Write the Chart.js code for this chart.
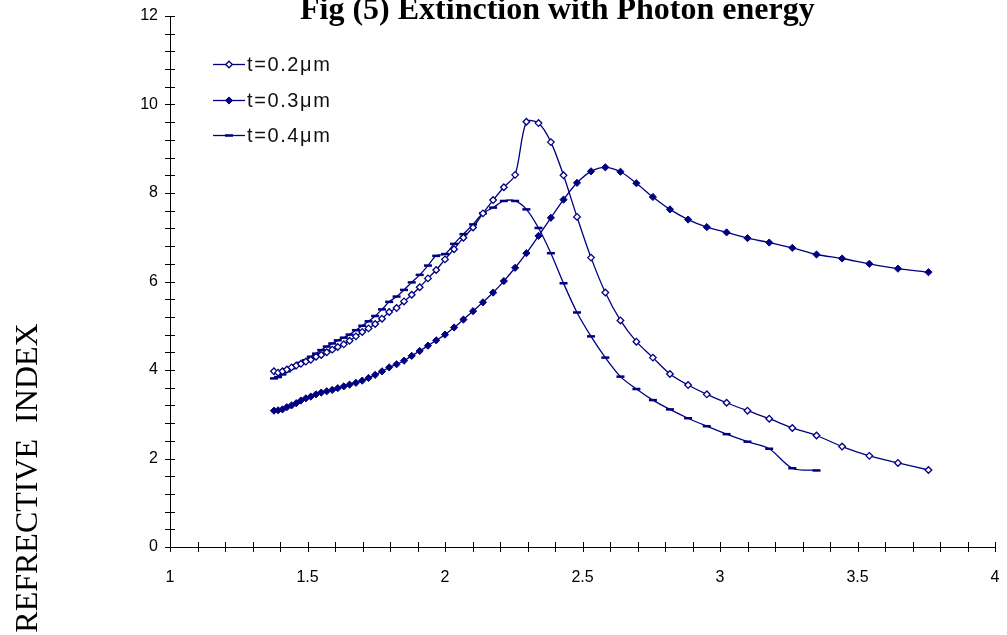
<!DOCTYPE html>
<html><head><meta charset="utf-8">
<script src="https://cdn.jsdelivr.net/npm/chart.js@4.4.0/dist/chart.umd.min.js"></script>
<style>html,body{margin:0;padding:0;background:#fff;overflow:hidden}</style>
</head><body>
<canvas id="c" width="1007" height="635"></canvas>
<script>
// Photon energy (eV) of each measured point
const photonEnergy = [1.378,1.393,1.409,1.425,1.442,1.459,1.476,1.494,1.512,1.531,
  1.550,1.570,1.590,1.610,1.632,1.653,1.676,1.699,1.722,1.746,
  1.771,1.797,1.824,1.851,1.879,1.908,1.938,1.968,2.000,2.033,
  2.067,2.102,2.138,2.175,2.214,2.255,2.296,2.340,2.385,2.431,
  2.480,2.531,2.583,2.638,2.696,2.756,2.818,2.884,2.952,3.024,
  3.100,3.179,3.263,3.351,3.444,3.543,3.647,3.758];
// t = 0.2 um
const ext02 = [3.97,3.94,3.97,4.01,4.06,4.10,4.14,4.19,4.23,4.30,
  4.34,4.40,4.46,4.52,4.58,4.66,4.76,4.86,4.94,5.04,
  5.16,5.31,5.40,5.55,5.70,5.87,6.07,6.26,6.50,6.73,
  6.99,7.22,7.54,7.84,8.13,8.41,9.61,9.58,9.15,8.40,
  7.46,6.54,5.75,5.12,4.64,4.28,3.91,3.66,3.45,3.26,
  3.08,2.90,2.69,2.52,2.27,2.06,1.90,1.74];
// t = 0.3 um
const ext03 = [3.08,3.09,3.11,3.16,3.20,3.25,3.31,3.36,3.40,3.45,
  3.49,3.52,3.55,3.59,3.63,3.67,3.71,3.76,3.82,3.89,
  3.97,4.06,4.13,4.21,4.32,4.43,4.55,4.67,4.80,4.96,
  5.14,5.33,5.53,5.75,6.01,6.31,6.64,7.03,7.44,7.85,
  8.23,8.49,8.58,8.48,8.22,7.91,7.63,7.40,7.23,7.11,
  6.98,6.88,6.76,6.61,6.52,6.40,6.29,6.21];
// t = 0.4 um (first 54 energies)
const ext04 = [3.81,3.84,3.90,3.97,4.04,4.10,4.16,4.22,4.30,4.37,
  4.45,4.53,4.60,4.67,4.73,4.80,4.90,5.00,5.10,5.22,
  5.37,5.54,5.66,5.81,5.98,6.15,6.36,6.58,6.62,6.85,
  7.07,7.29,7.54,7.67,7.82,7.82,7.63,7.21,6.64,5.96,
  5.30,4.76,4.28,3.85,3.57,3.32,3.11,2.91,2.73,2.55,
  2.38,2.22,1.78,1.73];
const xTickLabels = [1,1.5,2,2.5,3,3.5,4];
const yTickLabels = [0,2,4,6,8,10,12];
const seriesNames = ['t=0.2\u03bcm','t=0.3\u03bcm','t=0.4\u03bcm'];
const titleText = 'Fig (5) Extinction with Photon energy';
const yTitleText = 'REFRECTIVE  INDEX';

const NAVY = '#000080';
function pts(vals){ return vals.map((v,i)=>({x:photonEnergy[i], y:v})); }

const styles = [
  {pointStyle:'rectRot', pointRadius:3.3, pointBackgroundColor:'#fff', pointBorderWidth:1.3},
  {pointStyle:'rectRot', pointRadius:3.6, pointBackgroundColor:NAVY, pointBorderWidth:1},
  {pointStyle:'line', pointRadius:4, pointBackgroundColor:NAVY, pointBorderWidth:2.5}
];

const decor = {
  id:'decor',
  afterDraw(chart){
    const {ctx, scales:{x,y}} = chart;
    ctx.save();
    ctx.strokeStyle = '#000'; ctx.lineWidth = 1;
    ctx.beginPath();
    const xmin = xTickLabels[0], xmax = xTickLabels[xTickLabels.length-1];
    const nx = Math.round((xmax-xmin)/0.1);
    for (let i=0;i<=nx;i++){
      const px = Math.round(x.getPixelForValue(xmin+i*0.1))+0.5;
      ctx.moveTo(px, y.bottom-5); ctx.lineTo(px, y.bottom+5);
    }
    const ymax = yTickLabels[yTickLabels.length-1];
    const ny = Math.round(ymax/0.4);
    for (let i=0;i<=ny;i++){
      const py = Math.round(y.getPixelForValue(i*0.4))+0.5;
      ctx.moveTo(x.left-5, py); ctx.lineTo(x.left+5, py);
    }
    ctx.stroke();
    // chart title
    ctx.fillStyle = '#000';
    ctx.font = 'bold 32px "Liberation Serif", "Times New Roman", serif';
    ctx.textAlign = 'left'; ctx.textBaseline = 'alphabetic';
    ctx.fillText(titleText, 300, 19);
    // y-axis title
    ctx.save();
    ctx.translate(29, 478);
    ctx.rotate(-Math.PI/2);
    ctx.font = '32px "Liberation Serif", "Times New Roman", serif';
    ctx.textAlign = 'center'; ctx.textBaseline = 'middle';
    ctx.fillText(yTitleText, 0, 0);
    ctx.restore();
    // legend
    const rows = [64, 100, 135];
    for (let k=0;k<3;k++){
      const yy = rows[k];
      ctx.strokeStyle = NAVY; ctx.lineWidth = 1.3;
      ctx.beginPath(); ctx.moveTo(213, yy+0.5); ctx.lineTo(245, yy+0.5); ctx.stroke();
      const s = styles[k];
      ctx.fillStyle = s.pointBackgroundColor; ctx.strokeStyle = NAVY; ctx.lineWidth = s.pointBorderWidth;
      Chart.helpers.drawPoint(ctx, {pointStyle:s.pointStyle, radius:s.pointRadius, rotation:0, borderWidth:s.pointBorderWidth}, 229, yy+0.5);
      ctx.fillStyle = '#111';
      ctx.font = '20px Arial, "Liberation Sans", sans-serif';
      ctx.letterSpacing = '1.6px';
      ctx.textAlign = 'left'; ctx.textBaseline = 'middle';
      ctx.fillText(seriesNames[k], 247, yy+1);
      ctx.letterSpacing = '0px';
    }
    ctx.restore();
  }
};

const datasets = [ext02, ext03, ext04].map((vals,k)=>Object.assign({
  label: seriesNames[k],
  data: pts(vals),
  borderColor: NAVY,
  borderWidth: 1.3,
  pointBorderColor: NAVY,
  pointHoverRadius: 0,
  tension: 0.3,
  fill: false
}, styles[k]));

new Chart(document.getElementById('c'), {
  type: 'line',
  data: { datasets },
  plugins: [decor],
  options: {
    responsive: false,
    animation: false,
    devicePixelRatio: 1,
    layout: { padding: { top: 16, right: 12, left: 0, bottom: 0 } },
    plugins: { legend: { display: false }, tooltip: { enabled: false }, title: { display: false } },
    scales: {
      x: {
        type: 'linear', min: 1, max: 4,
        afterFit(s){ s.height = 88; s.paddingLeft = 0; s.paddingRight = 0; s.paddingTop = 0; s.paddingBottom = 0; },
        afterBuildTicks(s){ s.ticks = xTickLabels.map(v=>({value:v})); },
        ticks: { color: '#000', padding: 21, font: { family: 'Arial, "Liberation Sans", sans-serif', size: 16 }, maxRotation: 0, autoSkip: false,
                 callback: v => String(v) },
        grid: { display: false, drawTicks: false },
        border: { display: true, color: '#000', width: 1 }
      },
      y: {
        type: 'linear', min: 0, max: 12,
        afterFit(s){ s.width = 170; s.paddingLeft = 0; s.paddingRight = 0; s.paddingTop = 0; s.paddingBottom = 0; },
        afterBuildTicks(s){ s.ticks = yTickLabels.map(v=>({value:v})); },
        ticks: { color: '#000', padding: 12, font: { family: 'Arial, "Liberation Sans", sans-serif', size: 16 }, autoSkip: false,
                 callback: v => String(v) },
        grid: { display: false, drawTicks: false },
        border: { display: true, color: '#000', width: 1 }
      }
    }
  }
});
</script>
</body></html>
